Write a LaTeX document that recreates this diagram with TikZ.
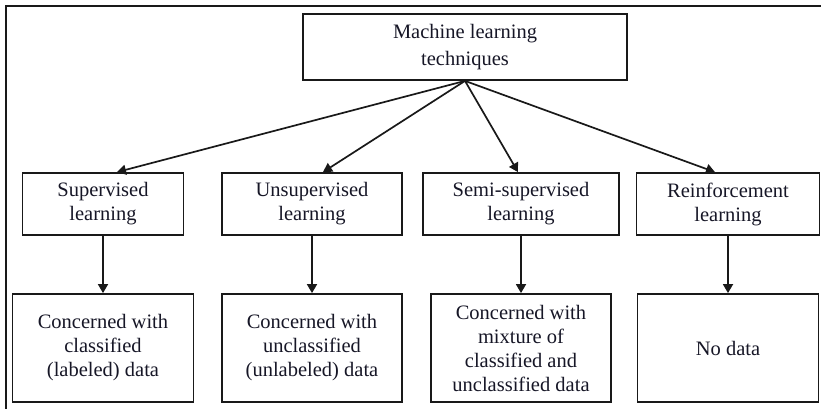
\documentclass[tikz,border=0pt]{standalone}
\usepackage{fontspec}
\setmainfont{Liberation Serif}
\usetikzlibrary{arrows.meta,calc}
\definecolor{txt}{RGB}{22,22,38}
\definecolor{ln}{RGB}{25,25,25}
\tikzset{
  box/.style={draw=ln, line width=1.8pt, inner sep=0pt, align=center,
    font=\fontsize{20.5}{24}\selectfont, text=txt},
  conn/.style={draw=ln, line width=1.7pt, -{Triangle[length=9pt,width=10pt]}},
}
\begin{document}
\begin{tikzpicture}[x=1pt,y=-1pt]
\useasboundingbox (0,0) rectangle (821,409);
\draw[ln, line width=1.6pt] (6,409) -- (6,6) -- (821,6);
\node[box, minimum width=324pt, minimum height=66pt, font=\fontsize{20.5}{26.5}\selectfont] (top) at (465,47) {Machine learning\\techniques};
\node[box, minimum width=161pt, minimum height=62pt] (sup) at (103,204) {Supervised\\learning};
\node[box, minimum width=180pt, minimum height=62pt] (uns) at (312,204) {Unsupervised\\learning};
\node[box, minimum width=196pt, minimum height=62pt] (semi) at (521,204) {Semi-supervised\\learning};
\node[box, minimum width=183pt, minimum height=62pt] (rein) at (728,204) {Reinforcement\\learning};
\node[box, minimum width=181pt, minimum height=108pt] (cla) at (103,348) {Concerned with\\classified\\(labeled) data};
\node[box, minimum width=180pt, minimum height=108pt] (ucl) at (312,348) {Concerned with\\unclassified\\(unlabeled) data};
\node[box, minimum width=180pt, minimum height=108pt] (mix) at (521,348) {Concerned with\\mixture of\\classified and\\unclassified data};
\node[box, minimum width=181pt, minimum height=108pt] (nod) at (728,348) {No data};
\draw[conn] (top.south) -- ($(sup.north)+(14,0)$);
\draw[conn] (top.south) -- ($(uns.north)+(11,0)$);
\draw[conn] (top.south) -- ($(semi.north)+(-3,0)$);
\draw[conn] (top.south) -- ($(rein.north)+(-13,0)$);
\draw[conn] (sup.south) -- (cla.north);
\draw[conn] (uns.south) -- (ucl.north);
\draw[conn] (semi.south) -- (mix.north);
\draw[conn] (rein.south) -- (nod.north);
\end{tikzpicture}
\end{document}
